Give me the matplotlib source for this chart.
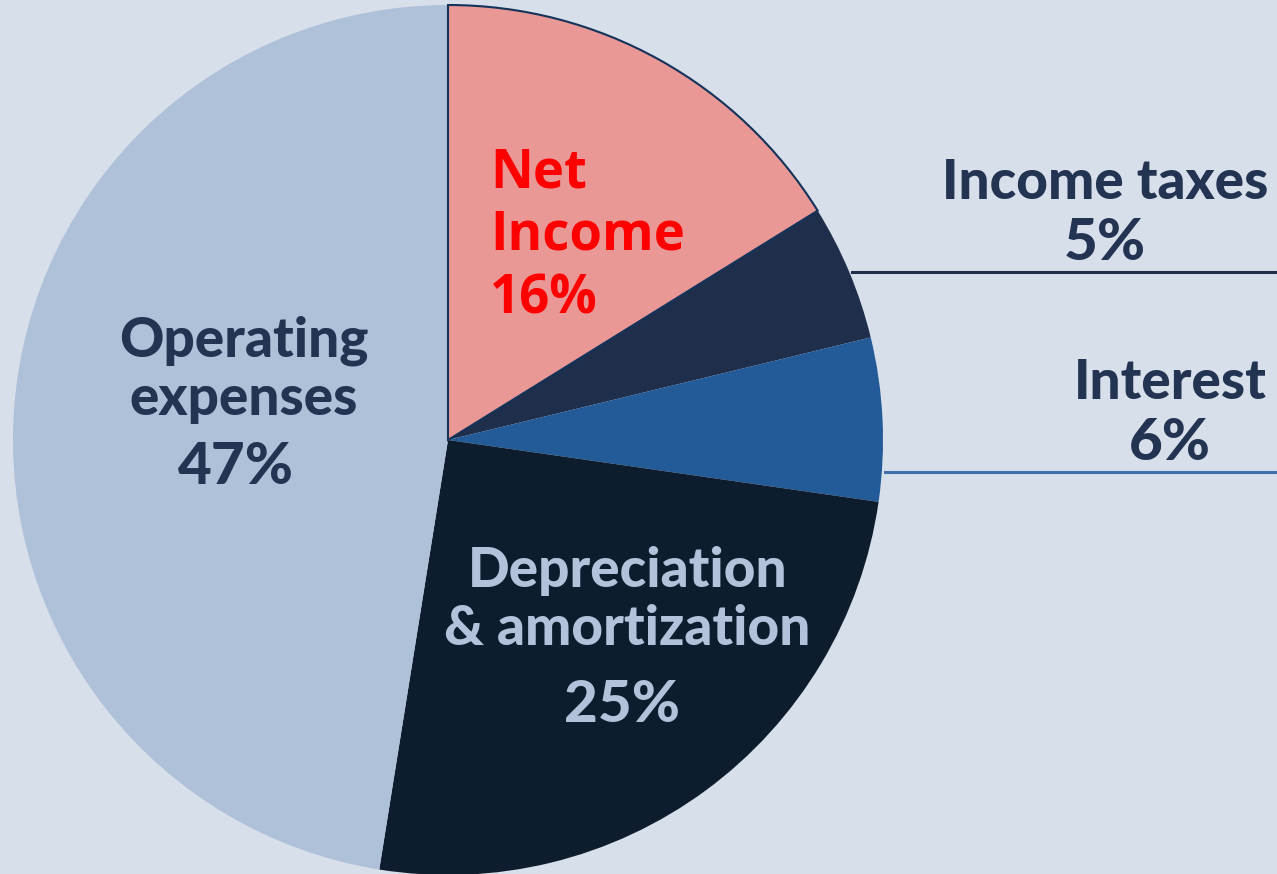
import matplotlib
matplotlib.use("Agg")
import matplotlib.pyplot as plt

categories = ["Net Income", "Income taxes", "Interest", "Depreciation & amortization", "Operating expenses"]
values = [16, 5, 6, 25, 47]
colors = ["#E99896", "#1F2E4B", "#235A98", "#0E1D2D", "#AFC0D9"]

W, H = 1277, 874
fig = plt.figure(figsize=(W / 100, H / 100), dpi=100)
fig.patch.set_facecolor("#D7DFEB")
ax = fig.add_axes([0, 0, 1, 1])
ax.set_facecolor("#D7DFEB")

cx, cy, r = 448, H - 440, 435
wedges, _ = ax.pie(values, colors=colors, startangle=90, counterclock=False,
                   center=(cx, cy), radius=r, frame=True,
                   wedgeprops=dict(linewidth=0))
wedges[0].set_edgecolor("#14335A")
wedges[0].set_linewidth(1.5)
wedges[0].set_zorder(3)

ax.set_xlim(0, W)
ax.set_ylim(0, H)
ax.set_aspect("auto")
ax.axis("off")

def Y(py):
    return H - py

dark = "#233352"
light = "#B2C2DA"
lab = dict(family="Lato", fontweight="black", fontsize=39.5)
pct = dict(family="Lato", fontweight="black", fontsize=42)

# leader lines
ax.plot([852, W], [Y(272), Y(272)], color="#1F2E4B", lw=2.2, zorder=1)
ax.plot([885, W], [Y(472), Y(472)], color="#3F70AA", lw=2.2, zorder=1)

# Net income (red)
for txt, by in zip(["Net", "Income", "16%"], [187, 250, 313]):
    ax.text(490, Y(by), txt, color="#FF0000", family="Open Sans", fontweight="bold",
            fontsize=38, ha="left", va="baseline", zorder=5)

# Income taxes
ax.text(1105, Y(199), "Income taxes", color=dark, ha="center", va="baseline", **lab)
ax.text(1105, Y(260), "5%", color=dark, ha="center", va="baseline", **pct)
# Interest
ax.text(1170, Y(399), "Interest", color=dark, ha="center", va="baseline", **lab)
ax.text(1170, Y(460), "6%", color=dark, ha="center", va="baseline", **pct)
# Operating expenses
ax.text(244, Y(357), "Operating", color=dark, ha="center", va="baseline", **lab)
ax.text(244, Y(415), "expenses", color=dark, ha="center", va="baseline", **lab)
ax.text(236, Y(484), "47%", color=dark, ha="center", va="baseline", **pct)
# Depreciation
ax.text(628, Y(587), "Depreciation", color=light, ha="center", va="baseline", **lab)
ax.text(627, Y(645), "& amortization", color=light, ha="center", va="baseline", **lab)
ax.text(622, Y(722), "25%", color=light, ha="center", va="baseline", **pct)

fig.savefig("out.png", dpi=100, facecolor=fig.get_facecolor())
